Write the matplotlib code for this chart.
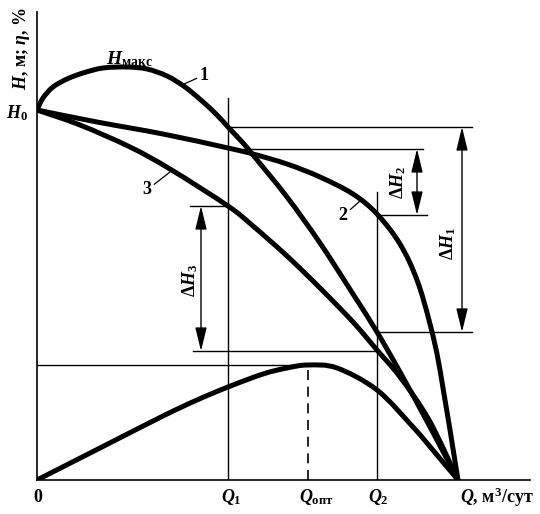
import numpy as np
import matplotlib
matplotlib.use('Agg')
from matplotlib import pyplot as plt
from matplotlib.path import Path
from matplotlib.patches import PathPatch

plt.rcParams['mathtext.fontset'] = 'custom'
plt.rcParams['mathtext.rm'] = 'Liberation Serif:bold'
plt.rcParams['mathtext.it'] = 'Liberation Serif:italic:bold'
plt.rcParams['mathtext.bf'] = 'Liberation Serif:bold'
plt.rcParams['font.family'] = ['Liberation Serif', 'DejaVu Serif']
plt.rcParams['font.weight'] = 'bold'

# curve 1 (H max)
q1_curve = [0, 6, 16, 30, 46, 66, 90, 110, 130, 148, 165, 180, 191, 206, 216, 250, 283, 316,
            340, 363, 392, 421]
h1_curve = [370, 382, 393, 401, 407, 412, 413, 411, 404, 393, 379, 365, 353, 337, 325, 283,
            237, 186, 148, 108, 55, 0]
# curve 2
q2_curve = [0, 60, 126, 191, 216, 250, 283, 316, 340, 363, 380, 393, 403, 421]
h2_curve = [370, 358, 346, 332, 326, 316, 303, 286, 266, 236, 200, 156, 110, 0]
# curve 3
q3_curve = [0, 43, 93, 133, 191, 216, 250, 283, 316, 340, 363, 392, 421]
h3_curve = [370, 355, 333, 311, 274, 254, 224, 192, 158, 130, 103, 60, 0]
# efficiency
q_eta = [0, 63, 126, 160, 191, 226, 250, 271, 300, 340, 376, 400, 421]
eta = [0, 32, 64, 80, 93, 106, 112, 115, 112, 90, 53, 25, 0]

Q1 = 191
Q2 = 340
Q_opt = 271
H0 = 370
eta_max = 115
H1_at_Q1, H1_at_Q2 = 353, 148
H2_at_Q1, H2_at_Q2 = 331, 265
H3_at_Q1, H3_at_Q2 = 274, 129


def smooth_curve(ax, xs, ys, **kw):
    '''draw a line through the points as a chain of cubic bezier pieces'''
    p = np.column_stack([xs, ys]).astype(float)
    p = np.vstack([p[0], p, p[-1]])
    verts = [tuple(p[1])]
    codes = [Path.MOVETO]
    for i in range(1, len(p) - 2):
        c1 = p[i] + (p[i + 1] - p[i - 1]) / 6.0
        c2 = p[i + 1] - (p[i + 2] - p[i]) / 6.0
        verts += [tuple(c1), tuple(c2), tuple(p[i + 1])]
        codes += [Path.CURVE4] * 3
    ax.add_patch(PathPatch(Path(verts, codes), facecolor='none', **kw))


fig = plt.figure(figsize=(5.4, 5.14), dpi=100)
ax = fig.add_axes([37 / 540, 34 / 514, 493 / 540, 468 / 514])
ax.set_xlim(0, 493)
ax.set_ylim(0, 468)
for s in ['top', 'right']:
    ax.spines[s].set_visible(False)
for s in ['left', 'bottom']:
    ax.spines[s].set_linewidth(1.2)
ax.set_xticks([])
ax.set_yticks([])

thick = dict(edgecolor='black', lw=3.6, capstyle='round', joinstyle='round')
thin = dict(color='black', lw=1.0)

smooth_curve(ax, q1_curve, h1_curve, **thick)
smooth_curve(ax, q2_curve, h2_curve, **thick)
smooth_curve(ax, q3_curve, h3_curve, **thick)
smooth_curve(ax, q_eta, eta, **thick)

# helper lines
ax.plot([Q1, Q1], [0, 382], **thin)
ax.plot([Q2, Q2], [0, 288], **thin)
ax.plot([Q_opt, Q_opt], [0, eta_max], color='black', lw=1.2, ls=(0, (6, 4)))
ax.plot([0, Q_opt], [eta_max, eta_max], **thin)
ax.plot([Q1, 435], [H1_at_Q1, H1_at_Q1], **thin)
ax.plot([Q2, 435], [H1_at_Q2, H1_at_Q2], **thin)
ax.plot([206, 386], [H2_at_Q1, H2_at_Q1], **thin)
ax.plot([Q2, 390], [H2_at_Q2, H2_at_Q2], **thin)
ax.plot([153, Q1], [H3_at_Q1, H3_at_Q1], **thin)
ax.plot([156, Q2], [H3_at_Q2, H3_at_Q2], **thin)

arr = dict(arrowstyle='<|-|>,head_length=0.9,head_width=0.22', color='black', lw=1.0,
           shrinkA=0, shrinkB=0, mutation_scale=16)
ax.annotate('', xy=(425, H1_at_Q1), xytext=(425, H1_at_Q2), arrowprops=arr)
ax.annotate('', xy=(380, H2_at_Q1), xytext=(380, H2_at_Q2), arrowprops=arr)
ax.annotate('', xy=(164, H3_at_Q1), xytext=(164, H3_at_Q2), arrowprops=arr)

fs = 13
ax.text(411, 237, r'$\Delta H_1$', fontsize=fs, rotation=90, ha='center', va='center')
ax.text(361, 298, r'$\Delta H_2$', fontsize=fs, rotation=90, ha='center', va='center')
ax.text(153, 200, r'$\Delta H_3$', fontsize=fs, rotation=90, ha='center', va='center')

# curve labels
lead = dict(arrowstyle='-', color='black', lw=0.9, shrinkA=0, shrinkB=0)
ax.annotate('1', xy=(145, 395), xytext=(167, 405), fontsize=fs, ha='center', va='center',
            arrowprops=lead)
ax.annotate('2', xy=(323, 279), xytext=(306, 264), fontsize=fs, ha='center', va='center',
            arrowprops=lead)
ax.annotate('3', xy=(133, 308), xytext=(110, 290), fontsize=fs, ha='center', va='center',
            arrowprops=lead)
ax.text(93, 421, r'$H_{\mathrm{макс}}$', fontsize=fs + 1, ha='center', va='center')

# axis labels
ax.text(-20, H0 - 3, r'$H_0$', fontsize=fs, ha='center', va='center')
ax.text(1, -18, '0', fontsize=fs, ha='center', va='center')
ax.text(Q1 + 3, -17, r'$Q_1$', fontsize=fs, ha='center', va='center')
ax.text(Q_opt + 8, -17, r'$Q_{\mathrm{опт}}$', fontsize=fs, ha='center', va='center')
ax.text(Q2 + 1, -17, r'$Q_2$', fontsize=fs, ha='center', va='center')
ax.text(423, -17, r'$Q$, м$^3$/сут', fontsize=fs, ha='left', va='center')
ax.text(-15, 432, r'$H$, м; $\eta$, %', fontsize=fs, rotation=90, ha='center', va='center')

fig.savefig('out.png', dpi=100)
